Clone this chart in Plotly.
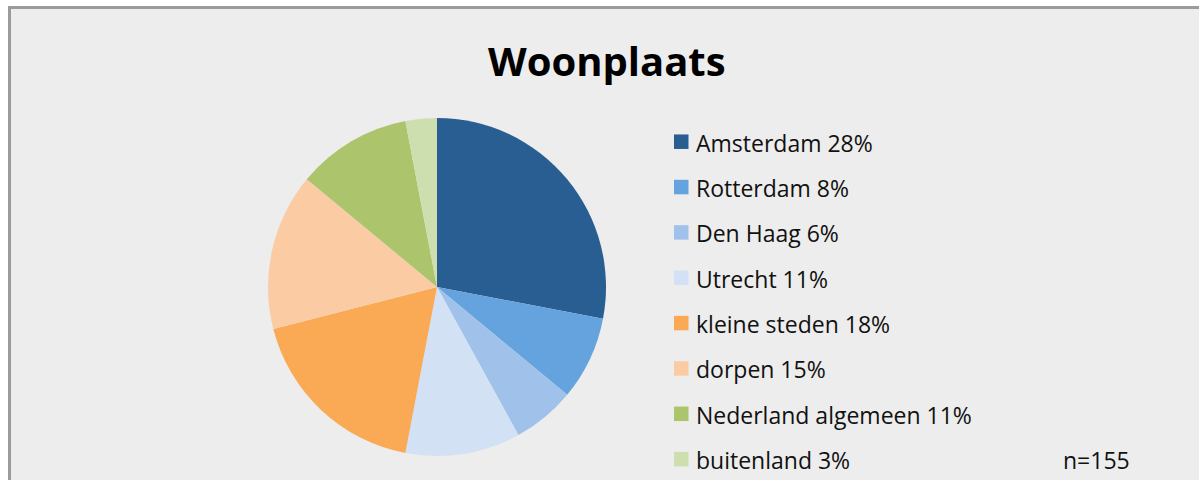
import plotly.graph_objects as go

categories = ["Amsterdam", "Rotterdam", "Den Haag", "Utrecht", "kleine steden",
              "dorpen", "Nederland algemeen", "buitenland"]
percentages = [28, 8, 6, 11, 18, 15, 11, 3]
colors = ["#285E91", "#65A3DE", "#A0C2EA", "#D2E1F3", "#FAA955",
          "#FBCBA3", "#ACC56D", "#CEDFAF"]
title_text = "Woonplaats"
n_text = "n=155"

W, H = 1199, 480
BG = "#EDEDED"
FONT = "Open Sans"

def px(x):
    return x / W

def py(y):
    return 1 - y / H

cx, cy, r = 437, 287, 169

fig = go.Figure()
fig.add_trace(go.Pie(
    labels=categories,
    values=percentages,
    marker=dict(colors=colors, line=dict(width=0)),
    sort=False,
    direction="clockwise",
    rotation=0,
    textinfo="none",
    hoverinfo="label+percent",
    showlegend=False,
    domain=dict(x=[px(cx - r), px(cx + r)], y=[py(cy + r), py(cy - r)]),
))

shapes = []
annotations = []

# chart area: grey fill with frame (top and left visible)
shapes.append(dict(type="rect", xref="paper", yref="paper",
                   x0=px(9.5), x1=px(W + 20), y0=py(H + 20), y1=py(7.5),
                   line=dict(color="#9B9B9B", width=3), fillcolor=BG,
                   layer="below"))

# manual legend
row0, gap = 142.7, 45.35
sq = 14.5
for i, (cat, pct, col) in enumerate(zip(categories, percentages, colors)):
    yc = row0 + i * gap
    shapes.append(dict(type="rect", xref="paper", yref="paper",
                       x0=px(674), x1=px(674 + sq),
                       y0=py(yc - 1 + sq / 2), y1=py(yc - 1 - sq / 2),
                       fillcolor=col, line=dict(width=0)))
    annotations.append(dict(text=f"{cat} {pct}%", xref="paper", yref="paper",
                            x=px(694), y=py(yc), xanchor="left", yanchor="middle",
                            showarrow=False,
                            font=dict(family=FONT, size=23, color="#111111")))

annotations.append(dict(text=n_text, xref="paper", yref="paper",
                        x=px(1061), y=py(row0 + 7 * gap), xanchor="left", yanchor="middle",
                        showarrow=False,
                        font=dict(family=FONT, size=23, color="#111111")))

annotations.append(dict(text=f"<b>{title_text}</b>", xref="paper", yref="paper",
                        x=px(607), y=py(60), xanchor="center", yanchor="middle",
                        showarrow=False,
                        font=dict(family=FONT, size=40, color="#000000")))

fig.update_layout(
    width=W, height=H,
    margin=dict(l=0, r=0, t=0, b=0),
    paper_bgcolor="#FFFFFF", plot_bgcolor="#FFFFFF",
    shapes=shapes, annotations=annotations,
    showlegend=False,
)

fig.write_html("out.html",
               config={"displayModeBar": False},
               post_script="document.body.style.margin='0';document.body.style.overflow='hidden';")
